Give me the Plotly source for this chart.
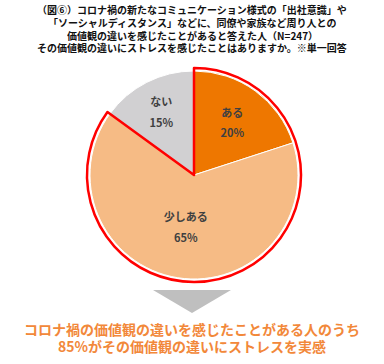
import plotly.graph_objects as go

labels = ["ある", "少しある", "ない"]
values = [20, 65, 15]
colors = ["#EE7700", "#F6BB85", "#D1D0D2"]
highlight_values = [85, 15]

title_lines = ["（図⑥）コロナ禍の新たなコミュニケーション様式の「出社意識」や",
               "「ソーシャルディスタンス」などに、同僚や家族など周り人との",
               "価値観の違いを感じたことがあると答えた人（N=247）",
               "その価値観の違いにストレスを感じたことはありますか。※単一回答"]
bottom_lines = ["コロナ禍の価値観の違いを感じたことがある人のうち",
                "85%がその価値観の違いにストレスを実感"]

W, H = 384, 364
cx, cy, r = 194, 175, 104
r2 = r + 3

def dom(rad):
    return dict(x=[(cx - rad) / W, (cx + rad) / W],
                y=[(H - cy - rad) / H, (H - cy + rad) / H])

FONT = "Noto Sans CJK JP"
SP = "<span style='font-size:11px'>"

fig = go.Figure()
fig.add_trace(go.Pie(
    labels=labels, values=values, sort=False, direction="clockwise", rotation=0,
    marker=dict(colors=colors, line=dict(color="white", width=1)),
    texttemplate=SP + "<b>%{label}</b></span><br>" + SP + "<b>%{percent:.0%}</b></span>",
    textposition="inside", insidetextorientation="horizontal",
    textfont=dict(family=FONT, size=16, color="#404040"),
    domain=dom(r), showlegend=False, hoverinfo="label+percent",
))
fig.add_trace(go.Pie(
    values=highlight_values, sort=False, direction="clockwise", rotation=0,
    marker=dict(colors=["rgba(0,0,0,0)", "rgba(0,0,0,0)"],
                line=dict(color=["#FF0000", "rgba(0,0,0,0)"], width=2.5)),
    textinfo="none", domain=dom(r2), showlegend=False, hoverinfo="skip",
))

title_top, title_step = 9, 12.8
for i, line in enumerate(title_lines):
    fig.add_annotation(text=f"<b>{line}</b>", x=0.5, y=1 - (title_top + i * title_step) / H,
                       xref="paper", yref="paper", xanchor="center", yanchor="middle",
                       showarrow=False, height=12, borderpad=0,
                       font=dict(family=FONT, size=10, color="#111111"))

bottom_top, bottom_step = 329, 16.5
for i, line in enumerate(bottom_lines):
    fig.add_annotation(text=f"<b>{line}</b>", x=0.5, y=1 - (bottom_top + i * bottom_step) / H,
                       xref="paper", yref="paper", xanchor="center", yanchor="middle",
                       showarrow=False, height=16, borderpad=0,
                       font=dict(family=FONT, size=14, color="#F2883A"))

# down arrow triangle (decoration)
tx0, tx1, ty0, tip_x, tip_y = 153, 231, 290, 192, 313
fig.add_shape(type="path", xref="paper", yref="paper",
              path=f"M {tx0/W} {1-ty0/H} L {tx1/W} {1-ty0/H} L {tip_x/W} {1-tip_y/H} Z",
              fillcolor="#BFBFBF", line=dict(width=0))

fig.update_layout(width=W, height=H, margin=dict(l=0, r=0, t=0, b=0),
                  paper_bgcolor="white", plot_bgcolor="white")
fig.write_html("out.html", config={"displayModeBar": False},
               post_script="document.body.style.margin='0';document.body.style.overflow='hidden';")
